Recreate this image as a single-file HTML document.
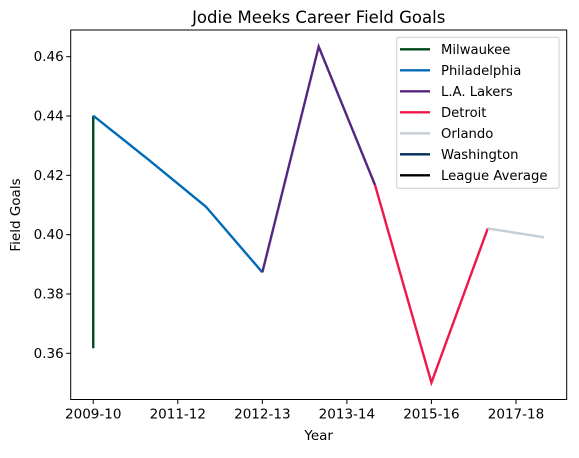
<!DOCTYPE html>
<html><head><meta charset="utf-8"><style>
body{margin:0;background:#fff;}
svg text{font-family:"DejaVu Sans","Liberation Sans",sans-serif;fill:#000;}
</style></head><body>
<svg width="579" height="453">
<g id="g"></g>
</svg>
<script>
const seasons=["2009-10","2011-12","2012-13","2013-14","2015-16","2017-18"];
const tickPos=[0,1.5,3,4.5,6,7.5];
const yTicks=[0.36,0.38,0.40,0.42,0.44,0.46];
const teams=["Milwaukee","Philadelphia","L.A. Lakers","Detroit","Orlando","Washington","League Average"];
const colors=["#00471B","#006BB6","#552583","#ED174C","#C4CED4","#002B5C","#000000"];
const milX=[0,0], milY=[0.3617,0.4401];
const phiX=[0,1,2,3], phiY=[0.4401,0.425,0.4094,0.3873];
const lalX=[3,4,5], lalY=[0.3873,0.4634,0.4167];
const detX=[5,6,7], detY=[0.4167,0.3501,0.4021];
const orlX=[7,8], orlY=[0.4021,0.3991];
const L=70.7,R=566.7,T=30,B=399.5;
const x=v=>L+(v+0.4)/8.8*(R-L);
const y=v=>56.7+(0.46-v)/0.01*29.66;
const g=document.getElementById('g');
const NS='http://www.w3.org/2000/svg';
function mk(t,a){const e=document.createElementNS(NS,t);for(const k in a)e.setAttribute(k,a[k]);g.appendChild(e);return e;}
function series(xs,ys,c,name){const p=mk('polyline',{points:xs.map((v,i)=>x(v)+','+y(ys[i])).join(' '),fill:'none',stroke:c,'stroke-width':2.4});

}
series(milX,milY,colors[0],'milwaukee-line');
series(phiX,phiY,colors[1],'philadelphia-line');
series(lalX,lalY,colors[2],'lakers-line');
series(detX,detY,colors[3],'detroit-line');
series(orlX,orlY,colors[4],'orlando-line');
const fr=mk('rect',{x:L,y:T,width:R-L,height:B-T,fill:'none',stroke:'#000','stroke-width':1});


seasons.forEach((s,i)=>{const px=x(tickPos[i]);mk('line',{x1:px,x2:px,y1:B,y2:B+4.5,stroke:'#000'});
const t=mk('text',{x:px,y:B+19,'text-anchor':'middle','font-size':13.5});t.textContent=s;

});
yTicks.forEach(v=>{const py=y(v);mk('line',{x1:L-4.5,x2:L,y1:py,y2:py,stroke:'#000'});
const t=mk('text',{x:L-7,y:py+4.5,'text-anchor':'end','font-size':13.5});t.textContent=v.toFixed(2);

});
let t=mk('text',{x:(L+R)/2,y:23,'text-anchor':'middle','font-size':16.5});t.textContent='Jodie Meeks Career Field Goals';


t=mk('text',{x:(L+R)/2,y:440,'text-anchor':'middle','font-size':13.5});t.textContent='Year';


t=mk('text',{x:20,y:215,'text-anchor':'middle','font-size':13.5,transform:'rotate(-90 20 215)'});t.textContent='Field Goals';


const lb=mk('rect',{x:396.7,y:37.3,width:162.3,height:151,fill:'#fff','fill-opacity':0.8,stroke:'#ccc',rx:2});


teams.forEach((n,i)=>{const py=49.3+i*21;mk('line',{x1:400,x2:430,y1:py,y2:py,stroke:colors[i],'stroke-width':2.4});
const e=mk('text',{x:441,y:py+4.6,'font-size':13.2});e.textContent=n;

});
</script>
</body></html>
